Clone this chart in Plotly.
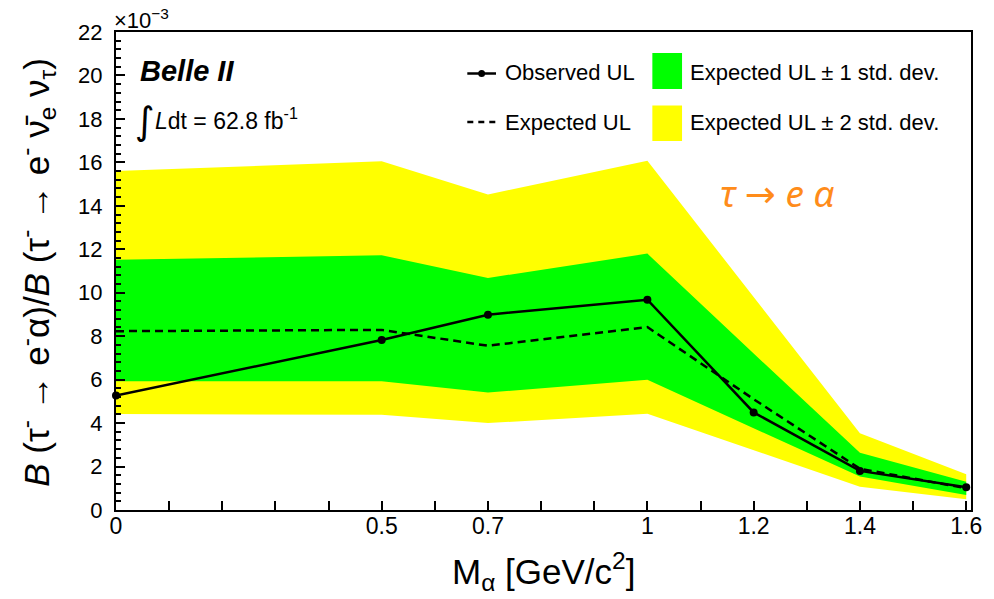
import plotly.graph_objects as go

# ---- data (values in units of 1e-3) ----
mass = [0.0, 0.5, 0.7, 1.0, 1.2, 1.4, 1.6]
observed_ul = [5.27, 7.82, 8.99, 9.68, 4.49, 1.80, 1.05]
expected_ul = [8.23, 8.29, 7.56, 8.42, 5.10, 1.90, 1.00]
exp_1sig_hi = [11.52, 11.72, 10.68, 11.80, 7.20, 2.64, 1.30]
exp_1sig_lo = [5.93, 5.92, 5.41, 5.99, 3.77, 1.54, 0.69]
exp_2sig_hi = [15.60, 16.05, 14.52, 16.08, 9.80, 3.53, 1.64]
exp_2sig_lo = [4.42, 4.38, 4.00, 4.43, 2.76, 1.07, 0.49]

x_tickvals = [round(0.1 * i, 1) for i in range(17)]
x_labeled = {0.0: "0", 0.5: "0.5", 0.7: "0.7", 1.0: "1", 1.2: "1.2", 1.4: "1.4", 1.6: "1.6"}
x_ticktext = [x_labeled.get(v, "") for v in x_tickvals]

FONT = "Liberation Sans, Arial, Helvetica, sans-serif"
YELLOW = "#FFFF00"
GREEN = "#00FF00"

# layout geometry (pixels)
W, H = 994, 599
L, R, T, B = 116, 14, 32, 89
PW = W - L - R
PH = H - T - B


def px(xp):
    return (xp - L) / PW


def py(yp):
    return (H - B - yp) / PH


fig = go.Figure()

# 2 sigma band
fig.add_trace(go.Scatter(
    x=mass + mass[::-1], y=exp_2sig_hi + exp_2sig_lo[::-1],
    fill="toself", fillcolor=YELLOW, line=dict(width=0), mode="lines",
    hoverinfo="skip", showlegend=False))
# 1 sigma band
fig.add_trace(go.Scatter(
    x=mass + mass[::-1], y=exp_1sig_hi + exp_1sig_lo[::-1],
    fill="toself", fillcolor=GREEN, line=dict(width=0), mode="lines",
    hoverinfo="skip", showlegend=False))
# expected
fig.add_trace(go.Scatter(
    x=mass, y=expected_ul, mode="lines",
    line=dict(color="black", width=2.5, dash="8px,5px"), showlegend=False))
# observed
fig.add_trace(go.Scatter(
    x=mass, y=observed_ul, mode="lines+markers",
    line=dict(color="black", width=2.5),
    marker=dict(color="black", size=8), showlegend=False, cliponaxis=False))

fig.update_layout(
    width=W, height=H,
    margin=dict(l=L, r=R, t=T, b=B, pad=0),
    paper_bgcolor="white", plot_bgcolor="white",
    font=dict(family=FONT, color="black"),
    showlegend=False,
)

fig.update_xaxes(
    range=[0, 1.609], showgrid=False, zeroline=False,
    showline=True, linecolor="black", linewidth=2, mirror=True,
    ticks="inside", ticklen=9, tickwidth=1.5, tickcolor="black",
    tickmode="array", tickvals=x_tickvals, ticktext=x_ticktext,
    tickfont=dict(size=23, family=FONT, color="black"),
    ticklabelstandoff=-6,
)
fig.update_yaxes(
    range=[0, 22], showgrid=False, zeroline=False,
    showline=True, linecolor="black", linewidth=2, mirror=True,
    ticks="inside", ticklen=9, tickwidth=1.5, tickcolor="black",
    dtick=2, tick0=0,
    minor=dict(dtick=0.4, ticks="inside", ticklen=5, tickwidth=1.5, tickcolor="black", showgrid=False),
    tickfont=dict(size=22, family=FONT, color="black"),
    ticklabelstandoff=7,
)

NB = "\u00a0"
ytitle = (f"<i>B</i> (τ<sup>-</sup>{NB}→{NB}e<sup>-</sup>α)/<i>B</i> "
          f"(τ<sup>-</sup>{NB}→{NB}e<sup>-</sup>{NB}ν\u0304<sub>e</sub>{NB}ν<sub>τ</sub>)")

ann = []
# axis titles
ann.append(dict(xref="paper", yref="paper", x=0.5, y=py(571), xanchor="center", yanchor="middle",
                text="M<sub>α</sub> [GeV/c<sup>2</sup>]", showarrow=False,
                font=dict(size=35, family=FONT, color="black")))
ann.append(dict(xref="paper", yref="paper", x=px(35), y=py(272), xanchor="center", yanchor="middle",
                textangle=-90, text=ytitle,
                showarrow=False, font=dict(size=35, family=FONT, color="black")))
# exponent
ann.append(dict(xref="paper", yref="paper", x=px(112), y=py(19), xanchor="left", yanchor="middle",
                text="×10<sup>−3</sup>", showarrow=False, font=dict(size=22, family=FONT, color="black")))
# Belle II
ann.append(dict(xref="paper", yref="paper", x=px(138), y=py(71), xanchor="left", yanchor="middle",
                text="<b><i>Belle II</i></b>", showarrow=False, font=dict(size=29, family=FONT, color="black")))
ann.append(dict(xref="paper", yref="paper", x=px(133), y=py(121), xanchor="left", yanchor="middle",
                text="∫", showarrow=False, font=dict(size=38, family="DejaVu Sans", color="black")))
ann.append(dict(xref="paper", yref="paper", x=px(153), y=py(119), xanchor="left", yanchor="middle",
                text="<i>L</i>dt = 62.8 fb<sup>-1</sup>", showarrow=False,
                font=dict(size=23, family=FONT, color="black")))
# process label
ann.append(dict(xref="paper", yref="paper", x=px(784), y=py(193), xanchor="center", yanchor="middle",
                text="<i>τ</i> → <i>e</i> <i>α</i>", showarrow=False,
                font=dict(size=37, family="Noto Sans, DejaVu Sans", color="#FF8C1A")))
# legend texts
LEG = 22
ann.append(dict(xref="paper", yref="paper", x=px(507), y=py(73), xanchor="left", yanchor="middle",
                text="Observed UL", showarrow=False, font=dict(size=LEG, family=FONT, color="black")))
ann.append(dict(xref="paper", yref="paper", x=px(507), y=py(122), xanchor="left", yanchor="middle",
                text="Expected UL", showarrow=False, font=dict(size=LEG, family=FONT, color="black")))
ann.append(dict(xref="paper", yref="paper", x=px(694), y=py(72), xanchor="left", yanchor="middle",
                text="Expected UL ± 1 std. dev.", showarrow=False, font=dict(size=LEG, family=FONT, color="black")))
ann.append(dict(xref="paper", yref="paper", x=px(694), y=py(122), xanchor="left", yanchor="middle",
                text="Expected UL ± 2 std. dev.", showarrow=False, font=dict(size=LEG, family=FONT, color="black")))

shapes = []
# legend symbols
shapes.append(dict(type="line", xref="paper", yref="paper", x0=px(471), x1=px(500), y0=py(73.5), y1=py(73.5),
                   line=dict(color="black", width=2.5)))
shapes.append(dict(type="circle", xref="paper", yref="paper", x0=px(482), x1=px(489), y0=py(77), y1=py(70),
                   fillcolor="black", line=dict(color="black", width=0)))
shapes.append(dict(type="line", xref="paper", yref="paper", x0=px(471), x1=px(500), y0=py(122), y1=py(122),
                   line=dict(color="black", width=2.5, dash="6px,5px")))
shapes.append(dict(type="rect", xref="paper", yref="paper", x0=px(658), x1=px(688), y0=py(89), y1=py(53),
                   fillcolor=GREEN, line=dict(width=0)))
shapes.append(dict(type="rect", xref="paper", yref="paper", x0=px(658), x1=px(688), y0=py(141), y1=py(105.5),
                   fillcolor=YELLOW, line=dict(width=0)))

fig.update_layout(annotations=ann, shapes=shapes)

fig.write_html("out.html")
